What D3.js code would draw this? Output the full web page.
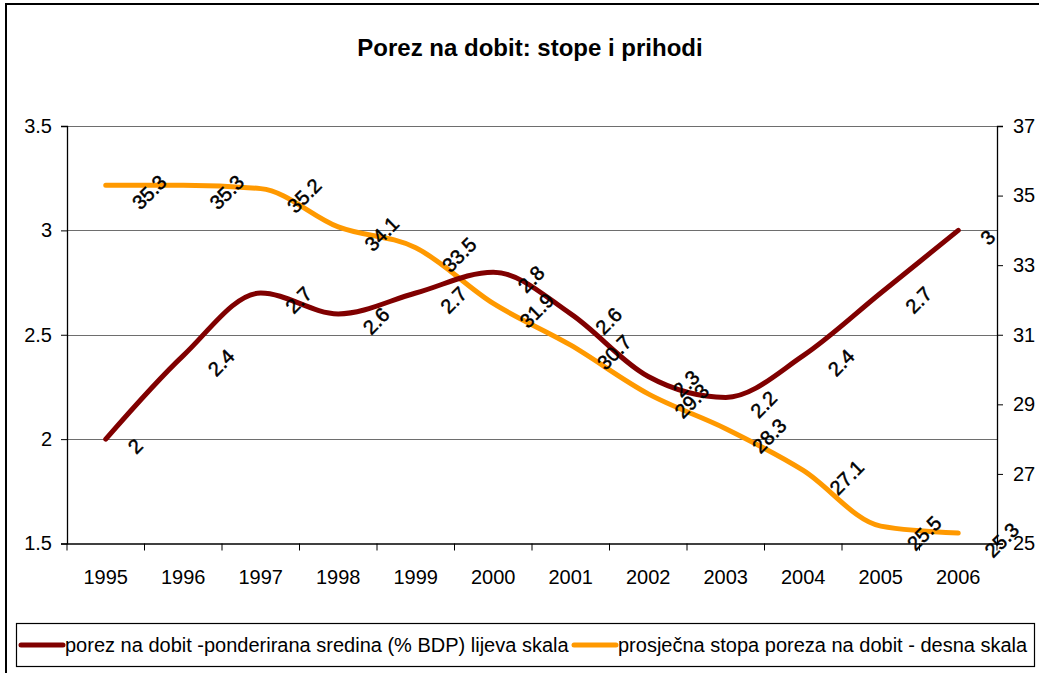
<!DOCTYPE html>
<html>
<head>
<meta charset="utf-8">
<script src="https://cdn.jsdelivr.net/npm/d3@7"></script>
<style>
  body { margin: 0; background: #fff; }
  svg text { font-family: "Liberation Sans", Arial, sans-serif; }
</style>
</head>
<body>
<svg width="1039" height="673"></svg>
<script>
// data
var years = ["1995","1996","1997","1998","1999","2000","2001","2002","2003","2004","2005","2006"];
var porezBDP = [2, 2.4, 2.7, 2.6, 2.7, 2.8, 2.6, 2.3, 2.2, 2.4, 2.7, 3];          // lijeva skala
var stopa = [35.3, 35.3, 35.2, 34.1, 33.5, 31.9, 30.7, 29.3, 28.3, 27.1, 25.5, 25.3]; // desna skala
var leftTicks = [1.5, 2, 2.5, 3, 3.5];
var rightTicks = [25, 27, 29, 31, 33, 35, 37];
var seriesNames = ["porez na dobit -ponderirana sredina (% BDP) lijeva skala",
                   "prosječna stopa poreza na dobit - desna skala"];

var svg = d3.select("svg"),
    plotL = 67, plotR = 997, plotT = 126, plotB = 543.5;

var x = d3.scaleBand().domain(years).range([plotL, plotR]);
var yL = d3.scaleLinear().domain([1.5, 3.5]).range([plotB, plotT]);
var yR = d3.scaleLinear().domain([25, 37]).range([plotB, plotT]);

// outer border
svg.append("rect")
    .attr("x", 6).attr("y", 4).attr("width", 1040).attr("height", 680)
    .attr("fill", "none").attr("stroke", "#000").attr("stroke-width", 2);

svg.append("text")
    .attr("x", 530).attr("y", 56)
    .attr("text-anchor", "middle")
    .style("font-size", "24px").style("font-weight", "bold")
    .text("Porez na dobit: stope i prihodi");

// gridlines
svg.append("g").selectAll("line")
    .data(leftTicks.slice(1))
    .join("line")
    .attr("x1", plotL).attr("x2", plotR)
    .attr("y1", d => Math.round(yL(d)) + 0.5).attr("y2", d => Math.round(yL(d)) + 0.5)
    .attr("stroke", "#6e6e6e").attr("stroke-width", 1.2);

var axisFont = "20px";

var gL = svg.append("g").attr("transform", "translate(" + plotL + ",0)")
    .call(d3.axisLeft(yL).tickValues(leftTicks).tickSize(6).tickPadding(9).tickFormat(d3.format("")));
var gR = svg.append("g").attr("transform", "translate(" + plotR + ",0)")
    .call(d3.axisRight(yR).tickValues(rightTicks).tickSize(6).tickPadding(10).tickFormat(d3.format("d")));
var gX = svg.append("g").attr("transform", "translate(0," + plotB + ")")
    .call(d3.axisBottom(x).tickSize(0).tickPadding(26));

// category boundary ticks on x axis
gX.append("g").selectAll("line")
    .data(d3.range(years.length + 1))
    .join("line")
    .attr("x1", i => plotL + i * x.step()).attr("x2", i => plotL + i * x.step())
    .attr("y1", 0).attr("y2", 7)
    .attr("stroke", "#000");

[gL, gR, gX].forEach(function(g) {
    g.select(".domain").attr("stroke", "#000").attr("stroke-width", 1.3);
    g.selectAll(".tick line").attr("stroke", "#000");
    g.selectAll("text").attr("fill", "#000").style("font-size", axisFont).style("font-family", null);
});

var cx = d => x(d) + x.bandwidth() / 2;

var lineL = d3.line().x((d, i) => cx(years[i])).y(d => yL(d)).curve(d3.curveMonotoneX);
var lineR = d3.line().x((d, i) => cx(years[i])).y(d => yR(d)).curve(d3.curveMonotoneX);

svg.append("path").datum(stopa)
    .attr("d", lineR).attr("fill", "none")
    .attr("stroke", "#FF9900").attr("stroke-width", 5).attr("stroke-linecap", "round");
svg.append("path").datum(porezBDP)
    .attr("d", lineL).attr("fill", "none")
    .attr("stroke", "#800000").attr("stroke-width", 5).attr("stroke-linecap", "round");

// rotated data labels, placed right of each point
function labels(values, yScale) {
    var g = svg.append("g");
    values.forEach(function(v, i) {
        var t = g.append("text")
            .attr("text-anchor", "middle")
            .attr("dominant-baseline", "central")
            .attr("fill", "#000")
            .attr("stroke", "#000").attr("stroke-width", 0.5)
            .style("font-size", "20px")
            .text(d3.format("")(v));
        var w = t.node().getComputedTextLength();
        var px = cx(years[i]) + 24 + w / 2, py = yScale(v) + 7;
        t.attr("transform", "translate(" + px + "," + py + ") rotate(-45)");
    });
}
labels(stopa, yR);
labels(porezBDP, yL);

// legend
var leg = svg.append("g");
leg.append("rect")
    .attr("x", 16.5).attr("y", 623.5).attr("width", 1018).attr("height", 43)
    .attr("fill", "#fff").attr("stroke", "#000").attr("stroke-width", 1.2);
var legItems = [
    {name: seriesNames[0], color: "#800000", x0: 21},
    {name: seriesNames[1], color: "#FF9900", x0: 574}
];
legItems.forEach(function(it) {
    leg.append("line")
        .attr("x1", it.x0).attr("x2", it.x0 + 42).attr("y1", 645).attr("y2", 645)
        .attr("stroke", it.color).attr("stroke-width", 5).attr("stroke-linecap", "round");
    leg.append("text")
        .attr("x", it.x0 + 44).attr("y", 652)
        .style("font-size", axisFont)
        .text(it.name);
});
</script>
</body>
</html>
